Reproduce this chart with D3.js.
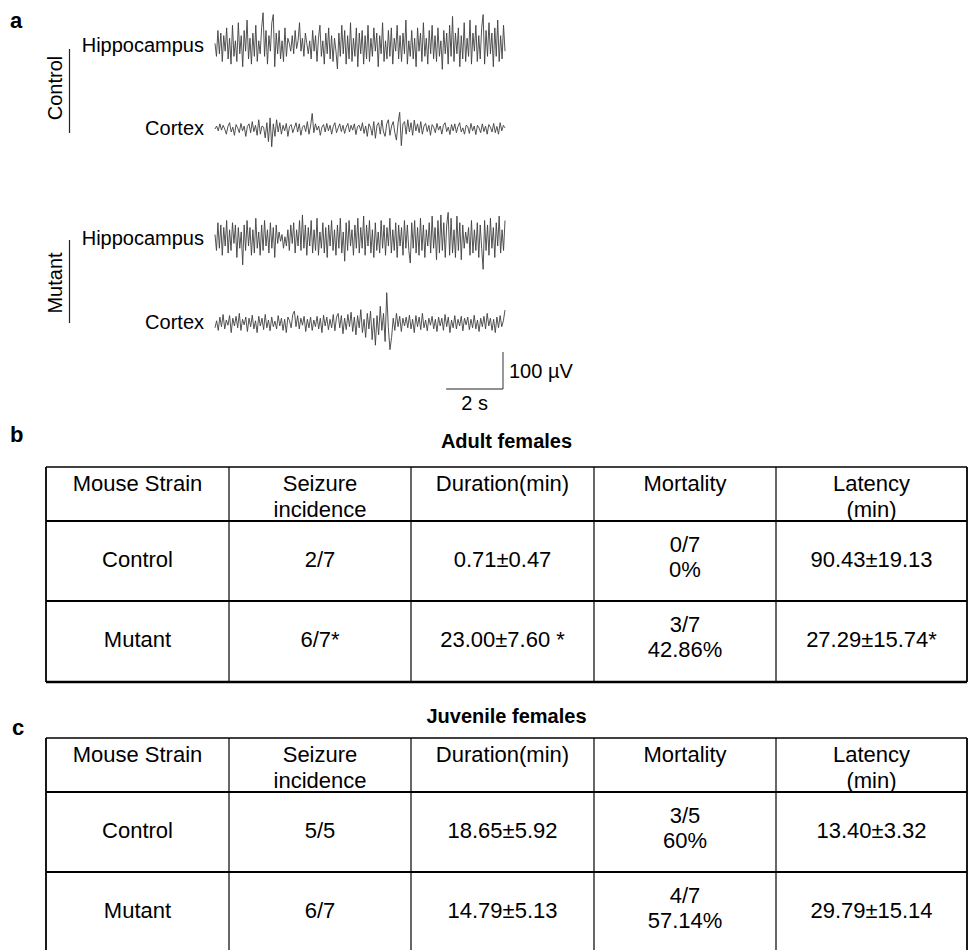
<!DOCTYPE html>
<html>
<head>
<meta charset="utf-8">
<script src="https://cdn.jsdelivr.net/npm/d3@7"></script>
<style>
  html, body { margin: 0; padding: 0; background: #fff; }
  svg { display: block; font-family: "Liberation Sans", Arial, sans-serif; }
</style>
</head>
<body>
<script>
// ---------------- DATA ----------------
// EEG traces (µV), uniform sampling over ~10 s
const ctrlHippo = [
  7,-28,42,-21,35,-42,28,-14,49,-35,21,-49,56,-28,14,-42,63,-21,28,-56,
  42,-14,70,-35,21,-49,35,-28,56,-42,14,-21,49,90,-28,42,-49,28,-14,63,
  85,-56,35,-21,42,-35,14,-42,49,-28,21,7,-14,28,-21,42,-7,14,63,-14,
  21,-28,35,7,-21,14,-35,42,-14,28,-42,21,56,-28,14,-49,35,-21,49,-35,
  28,-42,21,-14,-62,35,-28,56,-21,42,-49,28,-35,63,-42,21,-28,49,-56,35,
  -21,42,-49,28,-35,56,-42,21,-28,49,-14,35,-56,28,-21,63,-42,14,-35,42,
  -28,49,-49,21,-14,56,-35,28,-42,35,-21,70,-49,14,-28,42,-35,21,-56,49,
  -14,35,-42,63,-28,21,-49,42,-21,56,-35,28,-42,49,-28,14,-63,42,-21,35,
  -49,56,-28,80,-42,35,-21,49,-56,28,-35,63,-42,21,-28,70,-49,35,-14,56,
  -42,28,-35,49,85,-49,42,-28,63,-21,35,-56,49,-28,70,-42,28,-35,56,-14
];
const ctrlCortex = [
  0,8,-5,14,-3,10,0,-14,7,17,-8,5,-17,12,3,-10,15,-5,8,-20,
  7,14,-10,20,-7,10,-17,25,-14,8,5,-24,17,-34,30,-48,14,-20,25,-8,
  17,-14,10,-5,15,-20,7,12,-10,3,17,-8,14,-17,5,10,-7,20,-14,8,
  42,-10,14,-3,8,-17,5,12,-8,15,-5,10,-14,7,17,-10,3,14,-7,10,
  -12,5,15,-8,10,-3,14,-15,7,10,-5,17,-12,8,-20,14,5,-17,20,-25,
  10,17,-14,24,-8,-20,14,25,-17,8,20,-10,-30,17,45,-45,14,20,-14,25,
  -8,17,-17,24,-5,14,-10,20,-14,8,15,-7,10,-17,12,5,-10,15,-3,8,
  -14,10,17,-7,5,-15,12,-5,14,-10,7,17,-8,3,-14,10,7,-12,15,-5,
  8,-15,10,3,-10,14,-7,8,-14,12,5,-8,15,-10,7,-14,17,-5,10,3
];
const mutHippo = [
  12,-31,44,-25,38,-44,31,-19,50,-38,25,-31,44,-12,38,-50,31,-25,19,-70,
  38,-31,50,-19,31,-44,25,-38,56,-25,19,-44,38,-31,50,-19,25,-38,44,-25,
  31,-50,38,-12,19,-6,12,-25,6,-19,25,-31,38,-12,44,-38,25,-19,50,-31,
  65,-25,38,-44,31,-19,50,-38,25,-31,56,-44,19,-25,44,-38,31,-50,38,-19,
  50,-31,25,-44,38,-25,56,-38,19,-60,44,-31,50,-19,25,-44,38,-25,56,-38,
  31,-25,62,-44,38,-19,50,-38,25,-50,44,-31,19,-38,50,-25,38,-44,31,-19,
  56,-38,25,-31,44,-50,38,-19,31,-44,50,-25,38,-31,-65,44,-25,50,-38,31,
  -44,56,-31,38,-50,25,-19,44,-38,62,-25,31,-56,50,-38,65,-31,44,-50,38,
  72,-44,56,-38,25,-50,62,-31,44,-56,38,-25,19,-12,31,-44,50,-38,25,-31,
  44,-50,38,-25,-82,50,-31,38,-44,56,-25,31,-50,44,-19,62,-38,25,-31,50
];
const mutCortex = [
  -13,6,-20,16,-10,23,-16,8,-6,20,-26,13,-8,18,-13,26,-20,10,-5,16,
  -23,13,-10,21,-16,6,-26,18,-8,13,-18,23,-13,8,-21,16,-10,5,-16,20,
  -8,13,-20,10,-26,16,6,-13,23,32,-10,20,-16,13,-6,18,-23,10,-13,16,
  -20,8,-10,18,-16,13,-26,21,-8,16,-18,10,-13,23,-21,16,26,-13,20,-29,
  13,-18,23,-10,29,-23,16,-32,20,-13,36,-26,10,-39,26,-16,32,-45,13,-60,
  20,-32,45,-20,26,-50,82,-13,-72,-39,13,-20,26,-10,18,-23,13,-8,16,-13,
  21,-16,10,-26,20,-10,16,-18,26,-13,8,-21,13,-6,18,-16,10,-23,16,-8,
  13,-20,23,-10,16,-26,8,-13,20,-16,10,-8,18,-21,13,-5,16,-18,10,-13,
  21,-16,8,-23,13,-10,18,-16,26,-8,13,-20,10,-26,16,-13,20,-10,6,35
];
const traceDuration = 10.2;          // seconds shown
const groups = ["Control", "Mutant"];
const regions = ["Hippocampus", "Cortex"];
const scaleBarVolt = 100;            // µV
const scaleBarTime = 2;              // s
const scaleBarLabels = ["100 µV", "2 s"];

// Tables
const tableTitles = ["Adult females", "Juvenile females"];
const panelLetters = ["a", "b", "c"];
const headers = [["Mouse Strain"], ["Seizure", "incidence"], ["Duration(min)"], ["Mortality"], ["Latency", "(min)"]];
const strains = ["Control", "Mutant"];
const adultIncidence = ["2/7", "6/7*"];
const adultDuration = ["0.71±0.47", "23.00±7.60 *"];
const adultMortality = [["0/7", "0%"], ["3/7", "42.86%"]];
const adultLatency = ["90.43±19.13", "27.29±15.74*"];
const juvIncidence = ["5/5", "6/7"];
const juvDuration = ["18.65±5.92", "14.79±5.13"];
const juvMortality = [["3/5", "60%"], ["4/7", "57.14%"]];
const juvLatency = ["13.40±3.32", "29.79±15.14"];

// ---------------- DRAW ----------------
const W = 969, H = 950;
const svg = d3.select("body").append("svg").attr("width", W).attr("height", H);

// panel letters
const letterPos = [[10, 28], [10, 442], [12, 735]];
panelLetters.forEach((l, i) => {
  svg.append("text").attr("x", letterPos[i][0]).attr("y", letterPos[i][1])
    .attr("font-size", 22).attr("font-weight", "bold").text(l);
});

// EEG panel
const x = d3.scaleLinear().domain([0, traceDuration]).range([215, 505]);
const pxPer100 = 37;
const traces = [
  { g: 0, r: 0, data: ctrlHippo, cy: 46 },
  { g: 0, r: 1, data: ctrlCortex, cy: 129 },
  { g: 1, r: 0, data: mutHippo, cy: 239 },
  { g: 1, r: 1, data: mutCortex, cy: 323 }
];
traces.forEach(tr => {
  const y = d3.scaleLinear().domain([-scaleBarVolt, scaleBarVolt]).range([tr.cy + pxPer100, tr.cy - pxPer100]);
  const n = tr.data.length;
  const line = d3.line().x((d, i) => x(i * traceDuration / (n - 1))).y(d => y(d));
  svg.append("path").datum(tr.data).attr("d", line)
    .attr("fill", "none").attr("stroke", "#404040").attr("stroke-width", 0.9)
    .attr("stroke-linejoin", "round");
  svg.append("text").attr("x", 204).attr("y", tr.cy + 6).attr("text-anchor", "end")
    .attr("font-size", 20).text(regions[tr.r]);
});

// group labels with vertical lines
const groupLayout = [{ cy: 88, y0: 49, y1: 133 }, { cy: 283, y0: 240, y1: 323 }];
groups.forEach((g, i) => {
  const L = groupLayout[i];
  svg.append("text").attr("transform", `translate(62,${L.cy}) rotate(-90)`)
    .attr("text-anchor", "middle").attr("font-size", 20).text(g);
  svg.append("line").attr("x1", 69.5).attr("x2", 69.5).attr("y1", L.y0).attr("y2", L.y1)
    .attr("stroke", "#222").attr("stroke-width", 1.2);
});

// scale bar
const ySB = d3.scaleLinear().domain([0, scaleBarVolt]).range([389, 389 - pxPer100]);
const tEnd = x.invert(503);
svg.append("line").attr("x1", x(tEnd)).attr("x2", x(tEnd)).attr("y1", ySB(0)).attr("y2", ySB(scaleBarVolt))
  .attr("stroke", "#777").attr("stroke-width", 1.5);
svg.append("line").attr("x1", x(tEnd - scaleBarTime)).attr("x2", x(tEnd)).attr("y1", ySB(0)).attr("y2", ySB(0))
  .attr("stroke", "#222").attr("stroke-width", 1.2);
svg.append("text").attr("x", 509).attr("y", 378).attr("font-size", 20).text(scaleBarLabels[0]);
svg.append("text").attr("x", x(tEnd - scaleBarTime / 2)).attr("y", 410).attr("text-anchor", "middle")
  .attr("font-size", 20).text(scaleBarLabels[1]);

// tables
const colEdges = [46, 229, 411, 594, 776, 967];
function drawTable(top, title, titleY, incidence, duration, mortality, latency) {
  const g = svg.append("g");
  const rowEdges = [top, top + 54, top + 134, top + 215];
  g.append("text").attr("x", (colEdges[0] + colEdges[5]) / 2).attr("y", titleY)
    .attr("text-anchor", "middle").attr("font-size", 20).attr("font-weight", "bold").text(title);
  rowEdges.forEach((ry, i) => {
    g.append("line").attr("x1", colEdges[0]).attr("x2", colEdges[5]).attr("y1", ry).attr("y2", ry)
      .attr("stroke", "#000").attr("stroke-width", i === 3 ? 2.5 : (i === 0 ? 1.5 : 1.8));
  });
  colEdges.forEach((cx, i) => {
    g.append("line").attr("x1", cx).attr("x2", cx).attr("y1", rowEdges[0]).attr("y2", rowEdges[3])
      .attr("stroke", "#000").attr("stroke-width", (i === 0 || i === 5) ? 1.8 : 1.2);
  });
  const cc = i => (colEdges[i] + colEdges[i + 1]) / 2;
  headers.forEach((h, i) => {
    h.forEach((t, k) => {
      g.append("text").attr("x", cc(i)).attr("y", top + 24 + k * 26).attr("text-anchor", "middle")
        .attr("font-size", 22).text(t);
    });
  });
  strains.forEach((s, r) => {
    const rt = rowEdges[r + 1];
    const cells = [[s], [incidence[r]], [duration[r]], mortality[r], [latency[r]]];
    cells.forEach((lines, i) => {
      if (lines.length === 1) {
        g.append("text").attr("x", cc(i)).attr("y", rt + 46).attr("text-anchor", "middle")
          .attr("font-size", 22).text(lines[0]);
      } else {
        lines.forEach((t, k) => {
          g.append("text").attr("x", cc(i)).attr("y", rt + 31 + k * 25).attr("text-anchor", "middle")
            .attr("font-size", 22).text(t);
        });
      }
    });
  });
}
drawTable(467, tableTitles[0], 448, adultIncidence, adultDuration, adultMortality, adultLatency);
drawTable(738, tableTitles[1], 723, juvIncidence, juvDuration, juvMortality, juvLatency);
</script>
</body>
</html>
